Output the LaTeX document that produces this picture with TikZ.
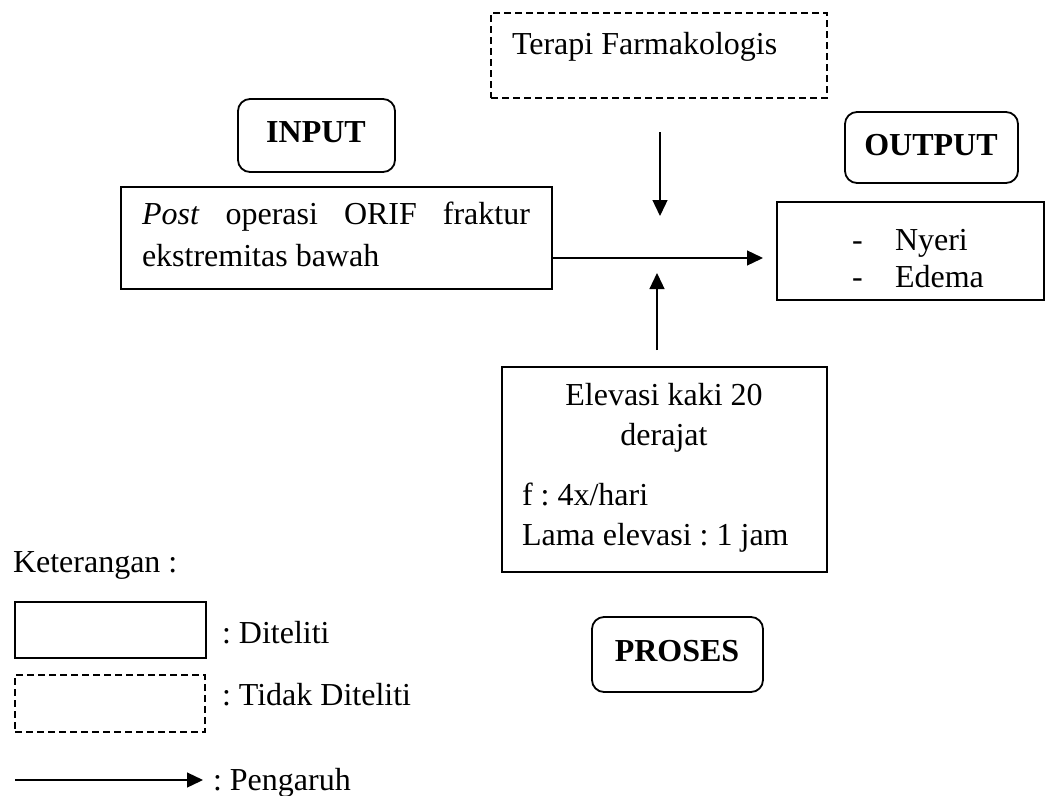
\documentclass[tikz,border=0pt]{standalone}
\usepackage{fontspec}
\setmainfont{Liberation Serif}
\usetikzlibrary{arrows.meta}
\frenchspacing
\begin{document}
\begin{tikzpicture}[x=1pt,y=-1pt,
  every node/.style={font=\fontsize{32pt}{37pt}\selectfont\frenchspacing, inner sep=0pt, outer sep=0pt},
  box/.style={draw, line width=1.3pt, rectangle},
  dbox/.style={draw, line width=1.3pt, rectangle, dash pattern=on 7pt off 4pt},
  rbox/.style={draw, line width=1.8pt, rectangle, rounded corners=12pt},
  arr/.style={line width=1.3pt, -{Triangle[length=16pt,width=15pt]}},
  lbl/.style={anchor=base west},
  clbl/.style={anchor=base},
  bld/.style={anchor=base, font=\fontsize{32pt}{37pt}\selectfont\bfseries}]
\useasboundingbox (0,0) rectangle (1046,795);

% boxes
\node[dbox, minimum width=336pt, minimum height=85pt] (terapi) at (659,55.5) {};
\node[rbox, minimum width=157pt, minimum height=73pt] (inlab) at (316.5,135.5) {};
\node[box, minimum width=431pt, minimum height=102pt] (inbox) at (336.5,238) {};
\node[rbox, minimum width=173pt, minimum height=71pt] (outlab) at (931.5,147.5) {};
\node[box, minimum width=267pt, minimum height=98pt] (outbox) at (910.5,251) {};
\node[box, minimum width=325pt, minimum height=205pt] (proc) at (664.5,469.5) {};
\node[rbox, minimum width=171pt, minimum height=75pt] (proclab) at (677.5,654.5) {};

% texts
\node[lbl] (tterapi) at (512,54) {Terapi Farmakologis};
\node[bld] (tin) at (316,142) {INPUT};
\node[bld] (tout) at (931,155) {OUTPUT};
\node[bld] (tproc) at (677,661) {PROSES};
\node[lbl] (tin1) at (142,224) {\makebox[388pt][s]{\textit{Post} operasi ORIF fraktur}};
\node[lbl] (tin2) at (142,266) {ekstremitas bawah};
\node[lbl] (d1) at (852,250) {-};
\node[lbl] (o1) at (895,250) {Nyeri};
\node[lbl] (d2) at (852,287) {-};
\node[lbl] (o2) at (895,287) {Edema};
\node[clbl] (p1) at (664,405) {Elevasi kaki 20};
\node[clbl] (p2) at (664,445) {derajat};
\node[lbl] (p3) at (522,505) {f : 4x/hari};
\node[lbl] (p4) at (522,545) {Lama elevasi : 1 jam};

% connectors
\coordinate (hs) at (552,258);
\coordinate (he) at (763,258);
\draw[arr] (inbox.east |- hs) -- (he);
\coordinate (ds) at (660,132);
\coordinate (de) at (660,216);
\draw[arr] (ds) -- (de);
\coordinate (us) at (657,350);
\coordinate (ue) at (657,273);
\draw[arr] (us) -- (ue);

% legend
\node[lbl] (ket) at (13,572) {Keterangan :};
\node[box, minimum width=191pt, minimum height=56pt] (lg1) at (110.5,630) {};
\node[lbl] (lt1) at (222,643) {: Diteliti};
\node[dbox, minimum width=190pt, minimum height=57pt] (lg2) at (110,703.5) {};
\node[lbl] (lt2) at (222,705) {: Tidak Diteliti};
\coordinate (ls) at (15,780);
\coordinate (le) at (203,780);
\draw[arr] (ls) -- (le);
\node[lbl] (lt3) at (213,790) {: Pengaruh};
\end{tikzpicture}
\end{document}
